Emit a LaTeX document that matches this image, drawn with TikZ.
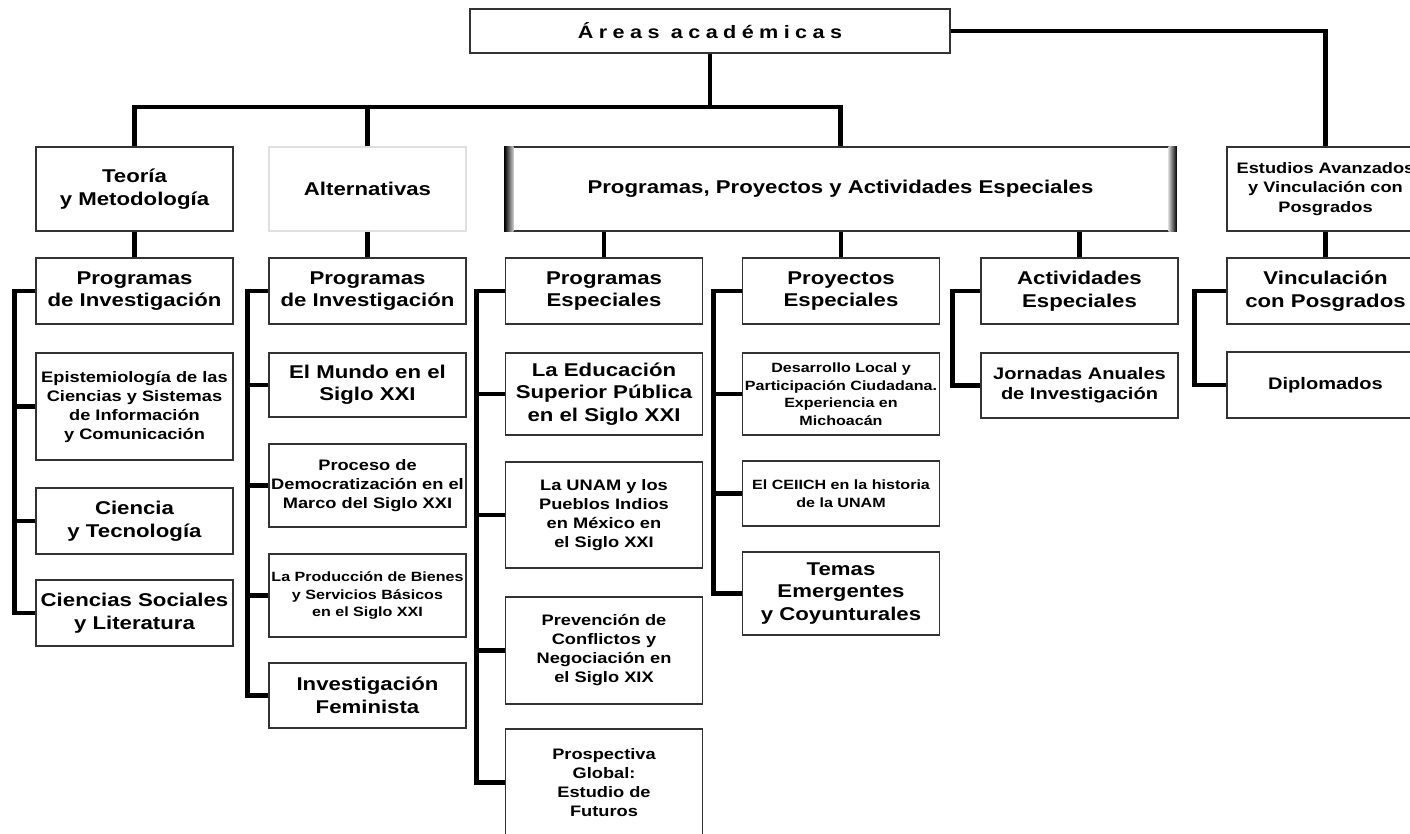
\documentclass[tikz,border=0pt]{standalone}
\usepackage{fontspec}
\setmainfont{Liberation Sans}[FakeStretch=1.2]
\begin{document}
\begin{tikzpicture}[x=1pt,y=-1pt]
  % Colors
  \colorlet{boxcolor}{black!80}
  \colorlet{faintcolor}{black!12}

  % Styles
  \tikzstyle{box}=[draw=boxcolor,line width=1.3pt,fill=white,inner sep=0pt,align=center,minimum width=197pt]
  \tikzstyle{bigtext}=[font=\fontsize{18.5}{22.5}\selectfont\bfseries]
  \tikzstyle{midtext}=[font=\fontsize{15.2}{19}\selectfont\bfseries]
  \tikzstyle{smalltext}=[font=\fontsize{13.4}{17.5}\selectfont\bfseries]
  \tikzstyle{link}=[line width=4.8pt]

  \clip (0,0) rectangle (1410,833);

  % The graphic
  \node[box,minimum width=480pt,minimum height=44pt,
        font=\fontsize{18}{22}\selectfont\bfseries\addfontfeatures{LetterSpace=30}]
    (top) at (710,31) {Áreas académicas};
  \coordinate (bar) at (710,107);

  % second level
  \node[box,bigtext,minimum height=84pt] (teoria) at (134.5,189) {Teoría\\y Metodología};
  \node[box,bigtext,minimum height=84pt,draw=faintcolor] (altern) at (367.5,189) {Alternativas};
  \node[box,bigtext,minimum height=84pt,minimum width=671pt] (ppa) at (840.5,189)
    {Programas, Proyectos y Actividades Especiales};
  \shade[left color=black,right color=black!20] (ppa.north west) rectangle ([xshift=9pt]ppa.south west);
  \shade[left color=black!20,right color=black] ([xshift=-8pt]ppa.north east) rectangle (ppa.south east);
  \node[box,midtext,minimum height=84pt,font=\fontsize{15.2}{19.3}\selectfont\bfseries]
    (estud) at (1325.5,189) {Estudios Avanzados\\y Vinculación con\\Posgrados};

  % third level
  \node[box,bigtext,minimum height=66pt] (tinv) at (134.5,291) {Programas\\de Investigación};
  \node[box,bigtext,minimum height=66pt] (ainv) at (367.5,291) {Programas\\de Investigación};
  \node[box,bigtext,minimum height=66pt] (pesp) at (604,291) {Programas\\Especiales};
  \node[box,bigtext,minimum height=66pt] (pyesp) at (841,291) {Proyectos\\Especiales};
  \node[box,bigtext,minimum height=66pt] (aesp) at (1079.5,291) {Actividades\\Especiales};
  \node[box,bigtext,minimum height=66pt] (vinc) at (1325.5,291) {Vinculación\\con Posgrados};

  % Teoria y Metodologia
  \node[box,midtext,minimum height=107pt] (epist) at (134.5,406.5)
    {Epistemiología de las\\Ciencias y Sistemas\\de Información\\y Comunicación};
  \node[box,bigtext,minimum height=66pt] (ciencia) at (134.5,521) {Ciencia\\y Tecnología};
  \node[box,bigtext,minimum height=66pt] (csoc) at (134.5,613) {Ciencias Sociales\\y Literatura};

  % Alternativas
  \node[box,bigtext,minimum height=64pt] (mundo) at (367.5,385) {El Mundo en el\\Siglo XXI};
  \node[box,midtext,minimum height=83pt] (democ) at (367.5,485.5)
    {Proceso de\\Democratización en el\\Marco del Siglo XXI};
  \node[box,smalltext,minimum height=83pt] (produc) at (367.5,595.5)
    {La Producción de Bienes\\y Servicios Básicos\\en el Siglo XXI};
  \node[box,bigtext,minimum height=65pt] (femin) at (367.5,695.5) {Investigación\\Feminista};

  % Programas Especiales
  \node[box,bigtext,minimum height=82pt] (educ) at (604,394)
    {La Educación\\Superior Pública\\en el Siglo XXI};
  \node[box,midtext,minimum height=106pt] (unam) at (604,515)
    {La UNAM y los\\Pueblos Indios\\en México en\\el Siglo XXI};
  \node[box,midtext,minimum height=107pt] (prev) at (604,650.5)
    {Prevención de\\Conflictos y\\Negociación en\\el Siglo XIX};
  \node[box,midtext,minimum height=107pt] (prosp) at (604,782.5)
    {Prospectiva\\Global:\\Estudio de\\Futuros};

  % Proyectos Especiales
  \node[box,smalltext,minimum height=82pt] (desarr) at (841,394)
    {Desarrollo Local y\\Participación Ciudadana.\\Experiencia en\\Michoacán};
  \node[box,smalltext,minimum height=65pt] (ceiich) at (841,493.5)
    {El CEIICH en la historia\\de la UNAM};
  \node[box,bigtext,minimum height=83pt] (temas) at (841,593.5)
    {Temas\\Emergentes\\y Coyunturales};

  % Actividades Especiales and Vinculacion
  \node[box,minimum height=65pt,font=\fontsize{16.7}{20}\selectfont\bfseries] (jornadas) at (1079.5,385.5)
    {Jornadas Anuales\\de Investigación};
  \node[box,minimum height=66pt,font=\fontsize{16.7}{20}\selectfont\bfseries] (diplom) at (1325.5,385) {Diplomados};

  % connectors from the top
  \draw[link] (top.south) -- (bar);
  \draw[link] (teoria.north) |- (bar) -| (ppa.north);
  \draw[link] (altern.north) -- (altern.north |- bar);
  \draw[link] (top.east) -| (estud.north);

  \draw[link] (teoria.south) -- (tinv.north);
  \draw[link] (altern.south) -- (ainv.north);
  \foreach \n in {pesp,pyesp,aesp}
    \draw[link] (ppa.south -| \n.north) -- (\n.north);
  \draw[link] (estud.south) -- (vinc.north);

  % brackets on the left of each column
  \draw[link] (tinv.west) -- ++(-21,0) |- (csoc.west);
  \foreach \n in {epist,ciencia}
    \draw[link] (\n.west) -- ++(-21,0);

  \draw[link] (ainv.west) -- ++(-21,0) |- (femin.west);
  \foreach \n in {mundo,democ,produc}
    \draw[link] (\n.west) -- ++(-21,0);

  \draw[link] (pesp.west) -- ++(-28,0) |- (prosp.west);
  \foreach \n in {educ,unam,prev}
    \draw[link] (\n.west) -- ++(-28,0);

  \draw[link] (pyesp.west) -- ++(-28,0) |- (temas.west);
  \foreach \n in {desarr,ceiich}
    \draw[link] (\n.west) -- ++(-28,0);

  \draw[link] (aesp.west) -- ++(-28,0) |- (jornadas.west);
  \draw[link] (vinc.west) -- ++(-32,0) |- (diplom.west);
\end{tikzpicture}
\end{document}
